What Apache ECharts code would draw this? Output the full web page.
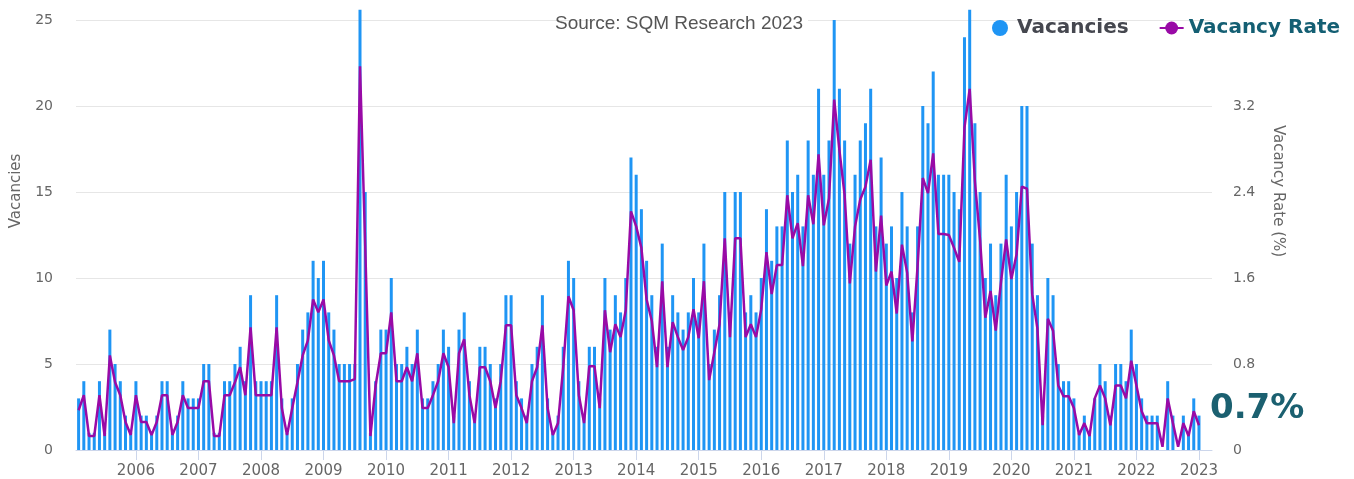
<!DOCTYPE html>
<html>
<head>
<meta charset="utf-8">
<script src="https://cdn.jsdelivr.net/npm/echarts@6/dist/echarts.min.js"></script>
<style>
  html, body { margin: 0; padding: 0; background: #fff; }
  #main { width: 1354px; height: 479px; }
</style>
</head>
<body>
<div id="main"></div>
<script>
// monthly series, Feb 2005 .. Jan 2023 (axis runs on to Mar 2023)
var startYear = 2005, startMonth = 2;
var endYear = 2023, endMonth = 3;

var vacancies = [
  3,4,1,1,4,1,7,5,4,2,1,4,2,2,1,2,4,4,1,2,4,3,3,3,5,5,
  1,1,4,4,5,6,4,9,4,4,4,4,9,3,1,3,5,7,8,11,10,11,8,7,5,5,5,5,
  25.6,15,1,4,7,7,10,5,5,6,5,7,3,3,4,5,7,6,2,7,8,4,2,6,6,5,3,5,
  9,9,4,3,2,5,6,9,3,1,2,6,11,10,4,2,6,6,3,10,7,9,8,10,17,16,14,11,
  9,6,12,6,9,8,7,8,10,8,12,5,7,9,15,8,15,15,8,9,8,10,14,11,13,13,18,
  15,16,13,18,16,21,16,18,25,21,18,12,16,18,19,21,13,17,12,13,10,15,13,8,13,20,19,22,
  16,16,16,15,14,24,25.6,19,15,10,12,9,12,16,13,15,20,20,12,9,2,10,9,5,4,4,3,1,
  2,1,3,5,4,2,5,5,4,7,5,3,2,2,2,0,4,2,0,2,1,3,2
];

var vacancyRate = [
  0.37,0.51,0.13,0.13,0.51,0.13,0.88,0.63,0.51,0.26,0.14,0.51,0.26,0.26,0.14,0.26,0.51,0.51,0.14,0.26,0.51,0.39,0.39,0.39,0.64,0.64,
  0.13,0.13,0.51,0.51,0.63,0.77,0.51,1.14,0.51,0.51,0.51,0.51,1.14,0.39,0.14,0.39,0.63,0.88,1.02,1.4,1.28,1.4,1.02,0.88,0.64,0.64,0.64,0.66,
  3.57,1.9,0.13,0.6,0.9,0.9,1.28,0.64,0.64,0.77,0.64,0.9,0.39,0.39,0.51,0.64,0.9,0.77,0.25,0.9,1.03,0.51,0.25,0.77,0.77,0.64,0.39,0.64,
  1.16,1.16,0.51,0.39,0.25,0.64,0.77,1.16,0.39,0.14,0.25,0.77,1.43,1.3,0.51,0.25,0.78,0.78,0.39,1.3,0.91,1.17,1.05,1.3,2.22,2.08,1.88,1.4,
  1.2,0.77,1.57,0.77,1.19,1.05,0.93,1.05,1.31,1.04,1.57,0.65,0.91,1.17,1.97,1.05,1.97,1.97,1.05,1.17,1.05,1.31,1.84,1.45,1.72,1.72,2.37,
  1.97,2.11,1.71,2.37,2.1,2.75,2.09,2.34,3.26,2.79,2.37,1.55,2.08,2.33,2.45,2.7,1.66,2.18,1.53,1.66,1.27,1.91,1.65,1.01,1.71,2.53,2.39,2.76,
  2.01,2.01,2.0,1.88,1.75,3.0,3.36,2.5,1.95,1.23,1.48,1.11,1.56,1.96,1.59,1.82,2.45,2.43,1.45,1.13,0.23,1.22,1.11,0.6,0.5,0.5,0.39,0.14,
  0.25,0.13,0.48,0.6,0.48,0.23,0.6,0.6,0.48,0.83,0.6,0.36,0.25,0.25,0.25,0.03,0.48,0.25,0.03,0.25,0.13,0.36,0.23
];

var latestLabel = '0.7%';

// month categories
var months = [];
for (var y = startYear, m = startMonth; y < endYear || (y === endYear && m <= endMonth); ) {
  months.push(y + '-' + (m < 10 ? '0' + m : m));
  m++;
  if (m > 12) { m = 1; y++; }
}

var isJan = function (idx, val) { return val.slice(5) === '01'; };

var myChart = echarts.init(document.getElementById('main'));

var option = {
  backgroundColor: '#fff',
  animation: false,
  grid: { left: 76, right: 142, top: 20, bottom: 26, containLabel: false },
  legend: {
    right: 9,
    top: 13,
    itemGap: 30,
    itemWidth: 24,
    itemHeight: 16,
    textStyle: { fontSize: 20, fontWeight: 'bold', fontFamily: 'DejaVu Sans' },
    data: [
      { name: 'Vacancies', icon: 'circle', textStyle: { color: '#45474f' } },
      { name: 'Vacancy Rate', textStyle: { color: '#145f73' } }
    ]
  },
  xAxis: {
    type: 'category',
    data: months,
    boundaryGap: true,
    axisLine: { lineStyle: { color: '#ccd6eb' } },
    axisTick: { show: true, interval: isJan, alignWithLabel: true, length: 10, lineStyle: { color: '#ccd6eb' } },
    axisLabel: {
      interval: isJan,
      formatter: function (v) { return v.slice(0, 4); },
      color: '#666', fontSize: 15, margin: 14, fontFamily: 'DejaVu Sans'
    },
    splitLine: { show: false }
  },
  yAxis: [
    {
      type: 'value', min: 0, max: 25, interval: 5,
      axisLine: { show: false }, axisTick: { show: false },
      axisLabel: { color: '#666', fontSize: 14, margin: 23, fontFamily: 'DejaVu Sans' },
      splitLine: { lineStyle: { color: '#e6e6e6' } }
    },
    {
      type: 'value', min: 0, max: 4, interval: 0.8,
      axisLine: { show: false }, axisTick: { show: false },
      axisLabel: {
        color: '#666', fontSize: 14, margin: 21, fontFamily: 'DejaVu Sans', showMaxLabel: false,
        formatter: function (v) { return v === 0 ? '0' : v.toFixed(1); }
      },
      splitLine: { show: false }
    }
  ],
  series: [
    {
      name: 'Vacancies',
      type: 'bar',
      data: vacancies,
      barWidth: 3,
      clip: false,
      itemStyle: { color: '#1f95f4' }
    },
    {
      name: 'Vacancy Rate',
      type: 'line',
      yAxisIndex: 1,
      data: vacancyRate,
      symbol: 'circle',
      symbolSize: 8,
      showSymbol: false,
      z: 5,
      itemStyle: { color: '#990aa6' },
      lineStyle: { color: '#990aa6', width: 2.5 }
    }
  ],
  graphic: [
    {
      type: 'rect', z: 1, shape: { x: 607, y: 17, width: 201, height: 6 },
      style: { fill: '#fff' }
    },
    {
      type: 'text', z: 2, left: 555, top: 14,
      style: { text: 'Source: SQM Research 2023', fill: '#555', fontSize: 19, fontFamily: 'Liberation Sans' }
    },
    {
      type: 'text', left: 1210, top: 392,
      style: { text: latestLabel, fill: '#1b6070', fontSize: 34, fontWeight: 'bold', fontFamily: 'DejaVu Sans' }
    },
    {
      type: 'text', x: 16, y: 191, rotation: Math.PI / 2,
      style: { text: 'Vacancies', fill: '#666', fontSize: 15, fontFamily: 'DejaVu Sans', align: 'center', verticalAlign: 'middle' }
    },
    {
      type: 'text', x: 1278, y: 191, rotation: -Math.PI / 2,
      style: { text: 'Vacancy Rate (%)', fill: '#666', fontSize: 15, fontFamily: 'DejaVu Sans', align: 'center', verticalAlign: 'middle' }
    }
  ]
};

myChart.setOption(option);
</script>
</body>
</html>
